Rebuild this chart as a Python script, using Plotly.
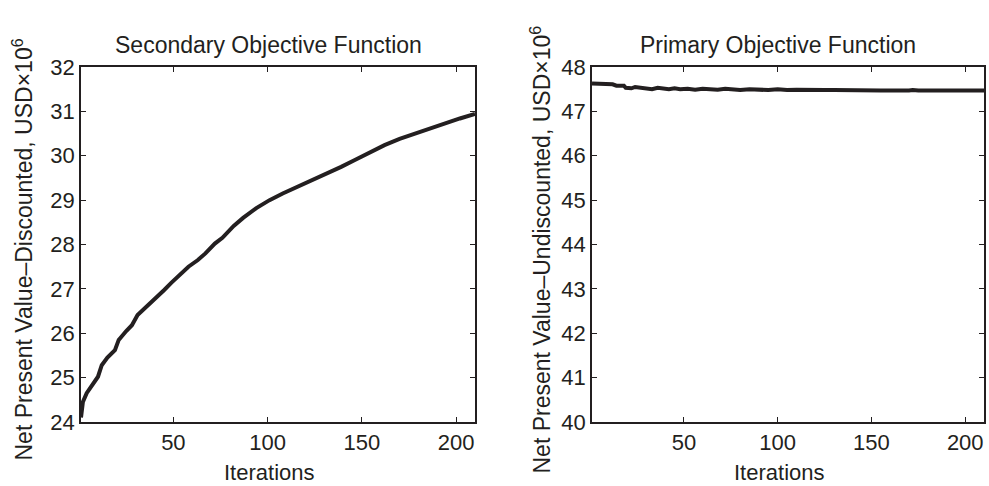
import plotly.graph_objects as go
from plotly.subplots import make_subplots

# Secondary objective (discounted NPV, USD x 1e6) per iteration
sec_iter = [1, 2, 4, 7, 10, 12, 15, 19, 21, 25, 28, 31, 36, 40, 45, 49, 54, 58, 63, 67,
            72, 76, 82, 87, 94, 101, 108, 116, 124, 132, 139, 146, 154, 162, 170, 178,
            186, 194, 202, 210]
sec_npv = [24.10, 24.45, 24.65, 24.85, 25.02, 25.28, 25.45, 25.62, 25.85, 26.05, 26.18,
           26.41, 26.60, 26.78, 26.97, 27.14, 27.33, 27.50, 27.65, 27.80, 28.02, 28.15,
           28.42, 28.60, 28.82, 29.00, 29.15, 29.30, 29.45, 29.60, 29.75, 29.90, 30.07,
           30.24, 30.38, 30.50, 30.62, 30.73, 30.84, 30.94]

# Primary objective (undiscounted NPV, USD x 1e6) per iteration
pri_iter = [1, 5, 9, 12, 14, 18, 19, 22, 24, 27, 30, 33, 36, 39, 42, 45, 48, 52, 56, 60,
            64, 68, 72, 76, 80, 85, 90, 95, 100, 105, 110, 115, 120, 125, 130, 140, 150,
            155, 170, 172, 175, 190, 200, 210]
pri_npv = [47.63, 47.62, 47.62, 47.61, 47.58, 47.58, 47.53, 47.52, 47.55, 47.53, 47.50,
           47.50, 47.53, 47.51, 47.50, 47.52, 47.50, 47.51, 47.49, 47.51, 47.50, 47.49,
           47.51, 47.50, 47.48, 47.50, 47.49, 47.48, 47.50, 47.48, 47.49, 47.48, 47.49,
           47.48, 47.48, 47.47, 47.48, 47.47, 47.47, 47.48, 47.47, 47.47, 47.47, 47.47]

x_ticks = [50, 100, 150, 200]
sec_ticks = [24, 25, 26, 27, 28, 29, 30, 31, 32]
pri_ticks = [40, 41, 42, 43, 44, 45, 46, 47, 48]

titles = ["Secondary Objective Function", "Primary Objective Function"]
y_titles = ["Net Present Value–Discounted, USD×10<sup>6</sup>",
            "Net Present Value–Undiscounted, USD×10<sup>6</sup>"]
x_title = "Iterations"

ink = "#231f20"
font = "Liberation Sans, Arial, sans-serif"
FS = 22

fig = make_subplots(rows=1, cols=2)

fig.add_trace(go.Scatter(x=sec_iter, y=sec_npv, mode="lines",
                         line=dict(color=ink, width=4), showlegend=False), row=1, col=1)
fig.add_trace(go.Scatter(x=pri_iter, y=pri_npv, mode="lines",
                         line=dict(color=ink, width=4), showlegend=False), row=1, col=2)

W, H = 989, 486
y_dom = [1 - 422 / H, 1 - 67 / H]
x_dom1 = [81 / W, 475 / W]
x_dom2 = [592 / W, 984 / W]

axis_common = dict(showgrid=False, zeroline=False, showline=True, linecolor=ink,
                   linewidth=1.5, mirror="ticks", ticks="inside", ticklen=5,
                   tickcolor=ink, tickwidth=1, automargin=False,
                   tickfont=dict(family=font, size=FS, color=ink))

fig.update_xaxes(**axis_common, range=[1, 210], tickvals=x_ticks)
fig.update_xaxes(domain=x_dom1, row=1, col=1)
fig.update_xaxes(domain=x_dom2, row=1, col=2)

fig.update_yaxes(**axis_common)
fig.update_yaxes(domain=y_dom, range=[24, 32], tickvals=sec_ticks, row=1, col=1)
fig.update_yaxes(domain=y_dom, range=[40, 48], tickvals=pri_ticks, row=1, col=2)

y_mid = (y_dom[0] + y_dom[1]) / 2
for dom, ttl, ytl, xt in [(x_dom1, titles[0], y_titles[0], 22),
                          (x_dom2, titles[1], y_titles[1], 540)]:
    cx = (dom[0] + dom[1]) / 2
    # subplot title
    fig.add_annotation(x=cx, y=1 - 45 / H, xref="paper", yref="paper", text=ttl,
                       showarrow=False, xanchor="center", yanchor="middle", xshift=-10,
                       font=dict(family=font, size=FS + 1, color=ink))
    # x-axis title
    fig.add_annotation(x=cx, y=1 - 472 / H, xref="paper", yref="paper", text=x_title,
                       showarrow=False, xanchor="center", yanchor="middle", xshift=-9,
                       font=dict(family=font, size=FS, color=ink))
    # y-axis title
    fig.add_annotation(x=xt / W, y=y_mid, xref="paper", yref="paper", text=ytl,
                       showarrow=False, xanchor="center", yanchor="middle", yshift=-5,
                       textangle=-90, font=dict(family=font, size=FS + 1, color=ink))

fig.update_layout(width=W, height=H, margin=dict(l=0, r=0, t=0, b=0),
                  plot_bgcolor="white", paper_bgcolor="white")

fig.write_html("out.html")
